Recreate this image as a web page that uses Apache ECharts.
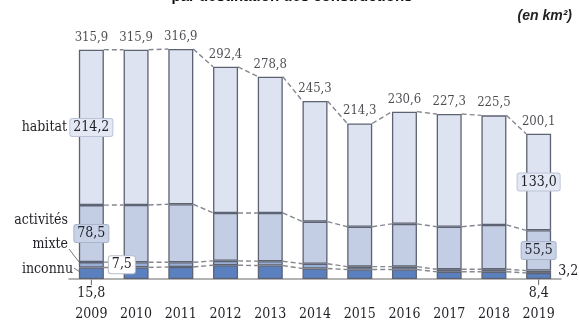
<!DOCTYPE html>
<html>
<head>
<meta charset="utf-8">
<script src="https://cdn.jsdelivr.net/npm/echarts@6/dist/echarts.min.js"></script>
<style>
html, body { margin: 0; padding: 0; background: #fff; }
#main { width: 579px; height: 321px; }
</style>
</head>
<body>
<div id="main"></div>
<script>
// données (en km2)
var years = ['2009', '2010', '2011', '2012', '2013', '2014', '2015', '2016', '2017', '2018', '2019'];
var inconnu = [15.8, 16.0, 16.5, 19.0, 18.5, 14.5, 13.0, 13.0, 10.0, 10.0, 8.4];
var mixte = [7.5, 7.0, 6.5, 6.0, 6.0, 6.5, 4.0, 4.0, 3.5, 3.5, 3.2];
var activites = [78.5, 79.0, 80.0, 66.0, 66.5, 58.0, 55.0, 59.0, 58.5, 61.0, 55.5];
var habitat = [214.2, 213.9, 213.9, 201.4, 187.8, 166.3, 142.3, 154.6, 155.3, 151.0, 133.0];
var totals = [315.9, 315.9, 316.9, 292.4, 278.8, 245.3, 214.3, 230.6, 227.3, 225.5, 200.1];

var serif = '"DejaVu Serif Condensed", "DejaVu Serif", serif';
var txt = '#1f1f26';
var barW = 25;

function fr(v) {
	return Number(v).toFixed(1).replace('.', ',');
}

// cumuls pour les pointillés entre barres
var levels = [];
var cum = years.map(function () { return 0; });
[inconnu, mixte, activites, habitat].forEach(function (arr) {
	cum = cum.map(function (c, i) { return c + arr[i]; });
	levels.push(cum.slice());
});
var links = [];
levels.forEach(function (lv) {
	for (var i = 0; i < lv.length - 1; i++) {
		links.push([i, lv[i], lv[i + 1]]);
	}
});

var border = { borderColor: '#5d6372', borderWidth: 1.3 };

function withLabels(arr, special) {
	return arr.map(function (v, i) {
		if (special[i]) {
			return { value: v, label: special[i] };
		}
		return v;
	});
}

var boxLabel = function (bg, bd) {
	return {
		show: true,
		position: 'inside',
		formatter: function (p) { return fr(p.value); },
		backgroundColor: bg,
		borderColor: bd,
		borderWidth: 1,
		borderRadius: 2,
		padding: [2, 3, 1, 3],
		color: txt,
		fontSize: 14,
		fontFamily: serif
	};
};
var plainLabel = function (pos, dist) {
	return { show: true, position: pos, distance: dist, formatter: function (p) { return fr(p.value); }, fontSize: 14, color: txt, fontFamily: serif };
};

var dom = document.getElementById('main');
var myChart = echarts.init(dom);
var option = {
	animation: false,
	grid: { left: 69, right: 18, top: 25, bottom: 42 },
	xAxis: {
		type: 'category',
		data: years,
		axisLine: { lineStyle: { color: '#9a9a9a', width: 1.5 } },
		axisTick: { show: false },
		axisLabel: { margin: 28, fontSize: 14, color: txt, fontFamily: serif }
	},
	yAxis: {
		type: 'value',
		min: 0,
		max: 350,
		show: false,
		splitLine: { show: false }
	},
	series: [
		{
			name: 'inconnu',
			type: 'bar',
			stack: 'a',
			barWidth: barW,
			itemStyle: Object.assign({ color: '#5b80c0' }, border),
			data: withLabels(inconnu, {
				0: plainLabel('bottom', 7),
				10: plainLabel('bottom', 7)
			})
		},
		{
			name: 'mixte',
			type: 'bar',
			stack: 'a',
			barWidth: barW,
			itemStyle: Object.assign({ color: '#9aafd6' }, border),
			data: withLabels(mixte, {
				0: { show: true, position: 'right', distance: 5, formatter: function (p) { return fr(p.value); }, backgroundColor: '#fff', borderColor: '#b9bfca', borderWidth: 1, borderRadius: 2, padding: [2, 3, 1, 3], fontSize: 14, color: txt, fontFamily: serif },
				10: plainLabel('right', 7)
			})
		},
		{
			name: 'activités',
			type: 'bar',
			stack: 'a',
			barWidth: barW,
			itemStyle: Object.assign({ color: '#c3cde3' }, border),
			data: withLabels(activites, {
				0: boxLabel('#c9d3e7', '#aab5cb'),
				10: boxLabel('#c9d3e7', '#aab5cb')
			})
		},
		{
			name: 'habitat',
			type: 'bar',
			stack: 'a',
			barWidth: barW,
			itemStyle: Object.assign({ color: '#dde3f1' }, border),
			data: withLabels(habitat, {
				0: boxLabel('#e3e8f4', '#bcc5d8'),
				10: boxLabel('#e3e8f4', '#bcc5d8')
			})
		},
		{
			name: 'total',
			type: 'scatter',
			symbolSize: 0,
			silent: true,
			data: totals,
			label: {
				show: true,
				position: 'top',
				distance: 6,
				formatter: function (p) { return fr(p.value); },
				fontSize: 13,
				color: txt,
				fontFamily: serif
			}
		},
		{
			name: 'liens',
			type: 'custom',
			silent: true,
			encode: { x: 0, y: [1, 2] },
			data: links,
			renderItem: function (params, api) {
				var i = api.value(0);
				var p1 = api.coord([i, api.value(1)]);
				var p2 = api.coord([i + 1, api.value(2)]);
				return {
					type: 'line',
					shape: { x1: p1[0] + barW / 2, y1: p1[1], x2: p2[0] - barW / 2, y2: p2[1] },
					style: { stroke: '#85878f', lineWidth: 1.4, lineDash: [5, 3] }
				};
			}
		}
	],
	graphic: [
		{ type: 'text', x: 292, y: 4, style: { text: 'par destination des constructions', font: 'bold 15px "Liberation Sans", Arial, sans-serif', fill: '#111', align: 'center', verticalAlign: 'bottom' } },
		{ type: 'text', x: 572, y: 16, style: { text: '(en km²)', font: 'italic bold 14px "Liberation Sans", Arial, sans-serif', fill: '#222', align: 'right', verticalAlign: 'middle' } },
		{ type: 'text', x: 67, y: 127, style: { text: 'habitat', font: '14px ' + serif, fill: txt, align: 'right', verticalAlign: 'middle' } },
		{ type: 'text', x: 68, y: 220, style: { text: 'activités', font: '14px ' + serif, fill: txt, align: 'right', verticalAlign: 'middle' } },
		{ type: 'text', x: 68, y: 244, style: { text: 'mixte', font: '14px ' + serif, fill: txt, align: 'right', verticalAlign: 'middle' } },
		{ type: 'text', x: 73, y: 269, style: { text: 'inconnu', font: '14px ' + serif, fill: txt, align: 'right', verticalAlign: 'middle' } },
		{ type: 'line', shape: { x1: 69, y1: 249, x2: 79, y2: 262 }, style: { stroke: '#777', lineWidth: 1 } },
		{ type: 'line', shape: { x1: 74, y1: 268, x2: 80, y2: 272 }, style: { stroke: '#777', lineWidth: 1 } }
	]
};
if (option && typeof option === 'object') {
	myChart.setOption(option, true);
}

// petits traits sous 2009 et 2019
var ticks = [0, years.length - 1].map(function (i) {
	var p = myChart.convertToPixel({ xAxisIndex: 0, yAxisIndex: 0 }, [i, 0]);
	return { type: 'line', shape: { x1: p[0], y1: p[1], x2: p[0], y2: p[1] + 6 }, style: { stroke: '#666', lineWidth: 1 } };
});
myChart.setOption({ graphic: option.graphic.concat(ticks) });
</script>
</body>
</html>
